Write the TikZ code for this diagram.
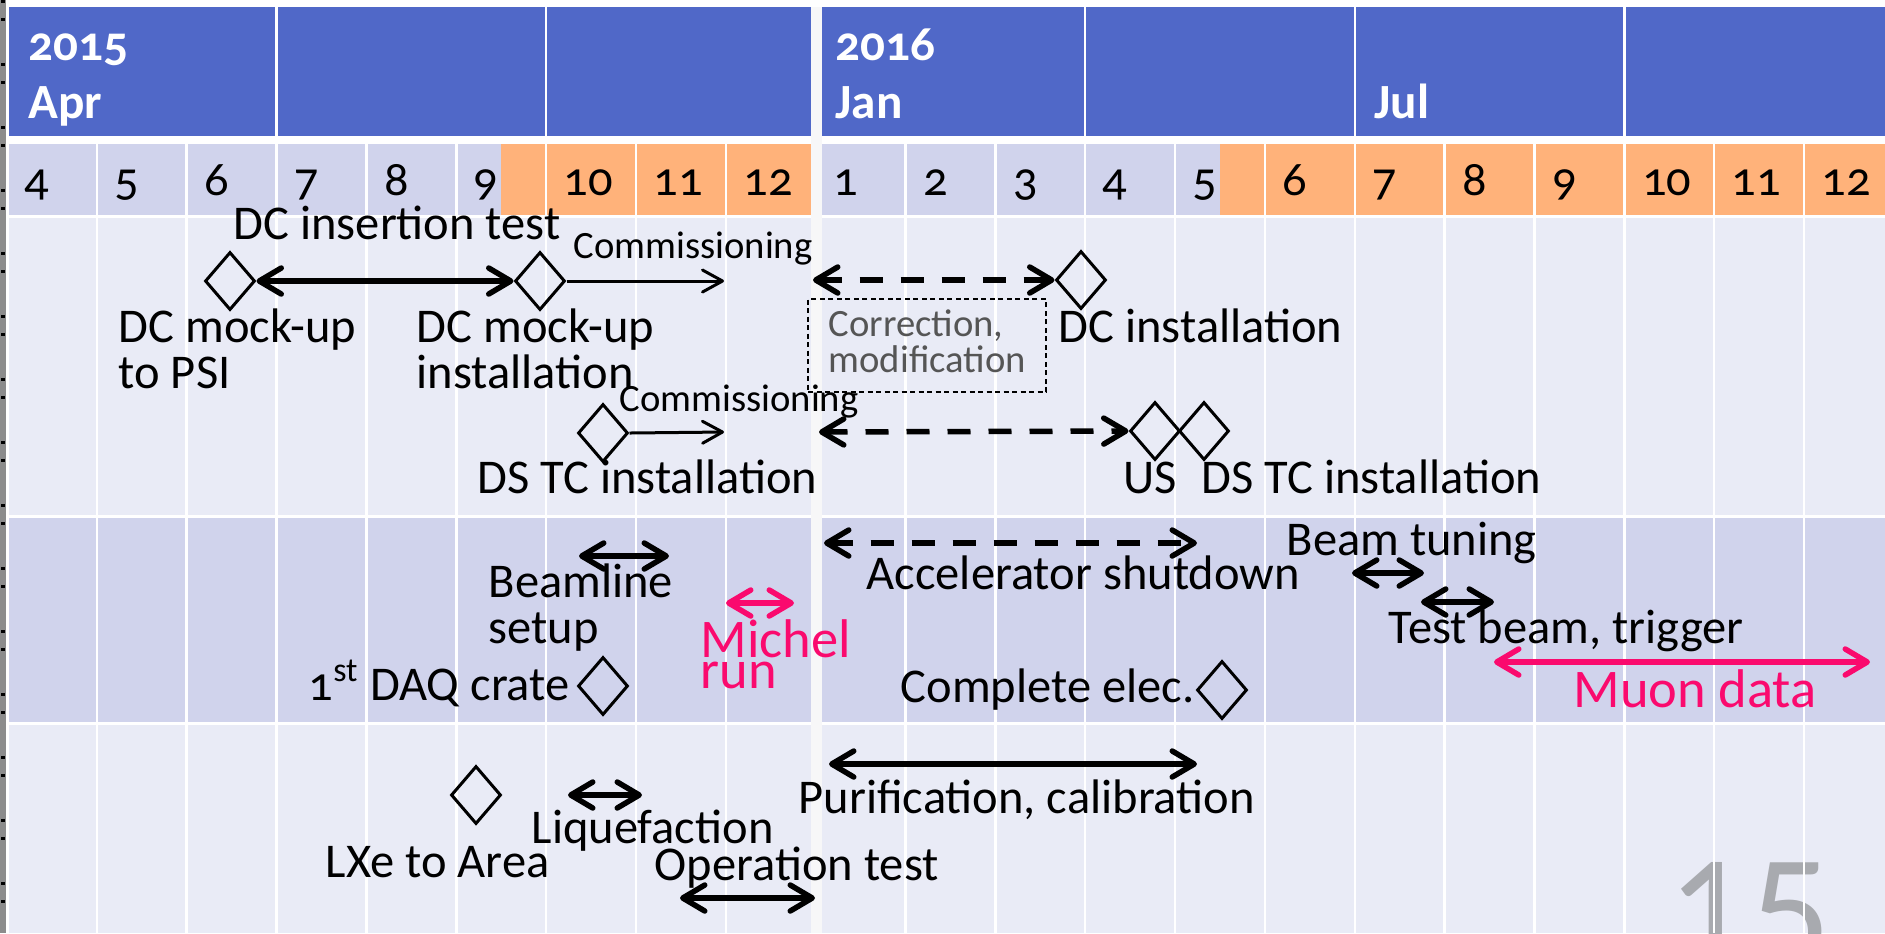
\documentclass[tikz,border=0pt]{standalone}
\usepackage{fontspec}
\setmainfont{Carlito}[Numbers=OldStyle]
\usepackage{tikz}
\usetikzlibrary{arrows.meta,shapes.geometric,positioning}
\usepackage{xcolor}

\definecolor{hdrblue}{RGB}{80,104,200}
\definecolor{bandlight}{RGB}{233,235,246}
\definecolor{bandmid}{RGB}{208,211,236}
\definecolor{monthorange}{RGB}{255,178,122}
\definecolor{yearband}{RGB}{247,247,248}
\definecolor{mupink}{RGB}{250,10,110}
\definecolor{notegray}{RGB}{85,85,85}
\definecolor{pagegray}{RGB}{168,170,175}
\definecolor{edgegray}{RGB}{140,140,140}

\newcommand{\evfont}{\fontsize{13.8pt}{13pt}\selectfont}
\newcommand{\notefont}{\fontsize{11pt}{10pt}\selectfont}
\newcommand{\runfont}{\fontsize{15.5pt}{8.8pt}\selectfont}
\newcommand{\yrfont}{\fontsize{14pt}{16.5pt}\selectfont\bfseries}
\newcommand{\pgnfont}{\fontsize{46pt}{50pt}\selectfont\addfontfeatures{Numbers=Lining}}

\begin{document}
\begin{tikzpicture}[x=0.1mm,y=-0.1mm,
		>={Straight Barb[length=2.2mm,width=2.6mm,round]},
		txt/.style={anchor=base west,inner sep=0pt,align=left,font=\evfont},
		hdr/.style={txt,font=\yrfont,text=white},
		ms/.style={diamond,draw,line width=0.3mm,inner sep=0pt,minimum width=5mm,minimum height=5.8mm},
		span/.style={<->,line width=0.55mm},
		dspan/.style={<->,line width=0.55mm,dash pattern=on 2.3mm off 1.8mm},
		onespan/.style={-{Straight Barb[length=2mm,width=2.2mm,round]},line width=0.3mm},
		gridline/.style={white,line width=0.25mm}]
		\fill[white] (0,0) rectangle (1885,933);
		\useasboundingbox (0,0) rectangle (1885,933);
		% slide edge
		\fill[edgegray] (0,0) rectangle (6,933);
		\draw[black,line width=0.35mm,dash pattern=on 0.3mm off 1.5mm on 0.3mm off 4.2mm] (3,0) -- (3,933);
		
		% table
		\fill[hdrblue] (9,7) rectangle (1885,136);
		\fill[bandmid] (9,144) rectangle (1885,215);
		\fill[monthorange] (501,144) rectangle (811,215);
		\fill[monthorange] (1220,144) rectangle (1885,215);
		\fill[bandlight] (9,218) rectangle (1885,515);
		\fill[bandmid] (9,518) rectangle (1885,722);
		\fill[bandlight] (9,725) rectangle (1885,933);
		\node[anchor=base west,inner sep=0pt,font=\pgnfont,text=pagegray] (pageno) at (1667,966) {15};
		\foreach \k in {3,6,12,15,18}
		\draw[gridline] ({7+89.85*\k},7) -- ({7+89.85*\k},136);
		\foreach \k in {1,...,8,10,11,...,20}
		\draw[gridline] ({7+89.85*\k},144) -- ({7+89.85*\k},933);
		\fill[yearband] (811,7) rectangle (822,933);
		
		\node[hdr] (y2015) at (28,118) {2015\\Apr};
		\node[hdr] (y2016) at (835,118) {2016\\Jan};
		\node[hdr] (jul) at (1374,118) {Jul};
		\foreach \k/\m in {0/4,1/5,2/6,3/7,4/8,5/9,6/10,7/11,8/12,9/1,10/2,11/3,12/4,13/5,14/6,15/7,16/8,17/9,18/10,19/11,20/12}
		\node[txt] (mon\k) at ({24+89.85*\k},195) {\m};
		
		% drift chamber
		\node[txt] (instest) at (233,239) {DC insertion test};
		\node[ms] (dcmock) at (230,281) {};
		\node[ms] (dcmockin) at (540,281) {};
		\draw[span] (dcmock.east) -- (dcmockin.west);
		\coordinate (com1) at (724,281);
		\draw[onespan] (dcmockin.east) -- (com1);
		\node[txt,font=\notefont] (comlbl1) at (573,258) {Commissioning};
		\node[txt] (mocklbl) at (118,388) {DC mock-up\\to PSI};
		\node[txt] (mockinlbl) at (416,388) {DC mock-up\\installation};
		\coordinate (corr1) at (813,280);
		\node[ms] (dcinst) at (1081,280) {};
		\draw[dspan] (corr1) -- (dcinst.west);
		\node[txt] (dcinstlbl) at (1058,342) {DC installation};
		\node[draw,line width=0.13mm,dash pattern=on 0.5mm off 0.35mm,minimum width=23.8mm,minimum height=9.3mm] (corr) at (927,345.5) {};
		\node[txt,font=\notefont,text=notegray] (corrlbl) at (828,372) {Correction,\\modification};
		
		% timing counter
		\node[ms] (dstc) at (603,433) {};
		\coordinate (com2) at (724,432);
		\draw[onespan] (dstc.east) -- (com2);
		\node[txt,font=\notefont] (comlbl2) at (619,411) {Commissioning};
		\node[txt] (dstclbl) at (477,493) {DS TC installation};
		\coordinate (corr2) at (819,432);
		\node[ms] (ustc) at (1155,431) {};
		\node[ms] (dstcb) at (1204,431) {};
		\draw[dspan] (corr2) -- (ustc.west);
		\node[txt] (uslbl) at (1123,493) {US};
		\node[txt] (dstclbl2) at (1201,493) {DS TC installation};
		
		% beam and DAQ
		\coordinate (bl-a) at (579,556);
		\coordinate (bl-b) at (669,556);
		\draw[span] (bl-a) -- (bl-b);
		\node[txt] (bllbl) at (488,643) {Beamline\\setup};
		\coordinate (mi-a) at (726,603);
		\coordinate (mi-b) at (794,603);
		\draw[span,mupink] (mi-a) -- (mi-b);
		\node[txt,font=\runfont,text=mupink] (milbl) at (700,688) {Michel\\run};
		\node[txt] (daqlbl) at (308,700) {1\textsuperscript{st} DAQ crate};
		\node[ms] (daq) at (603,686) {};
		\coordinate (acc-a) at (824,543);
		\coordinate (acc-b) at (1197,543);
		\draw[dspan] (acc-a) -- (acc-b);
		\node[txt] (acclbl) at (866,589) {Accelerator shutdown};
		\node[txt] (btlbl) at (1286,555) {Beam tuning};
		\coordinate (bt-a) at (1352,573);
		\coordinate (bt-b) at (1424,573);
		\draw[span] (bt-a) -- (bt-b);
		\coordinate (tb-a) at (1421,602);
		\coordinate (tb-b) at (1494,602);
		\draw[span] (tb-a) -- (tb-b);
		\node[txt] (tblbl) at (1388,643) {Test beam, trigger};
		\coordinate (mu-a) at (1494,662);
		\coordinate (mu-b) at (1870,662);
		\draw[span,mupink] (mu-a) -- (mu-b);
		\node[txt,font=\runfont,text=mupink] (mulbl) at (1573,707) {Muon data};
		\node[txt] (elclbl) at (900,702) {Complete elec.};
		\node[ms] (elc) at (1222,690) {};
		
		% LXe
		\node[ms] (lxe) at (476,795) {};
		\node[txt] (lxelbl) at (325,877) {LXe to Area};
		\coordinate (lq-a) at (568,795);
		\coordinate (lq-b) at (642,795);
		\draw[span] (lq-a) -- (lq-b);
		\node[txt] (lqlbl) at (531,843) {Liquefaction};
		\node[txt] (oplbl) at (654,880) {Operation test};
		\coordinate (op-a) at (680,898);
		\coordinate (op-b) at (815,898);
		\draw[span] (op-a) -- (op-b);
		\coordinate (pu-a) at (829,764);
		\coordinate (pu-b) at (1197,764);
		\draw[span] (pu-a) -- (pu-b);
		\node[txt] (pulbl) at (798,813) {Purification, calibration};
	\end{tikzpicture}
\end{document}
